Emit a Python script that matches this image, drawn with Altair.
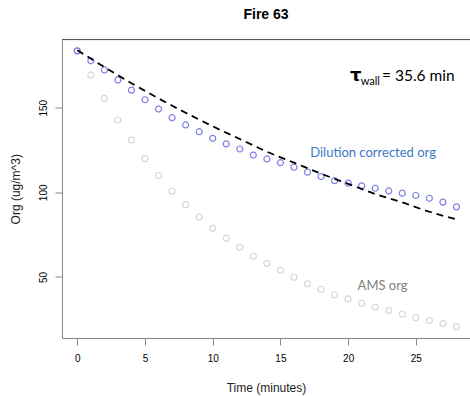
import altair as alt
import pandas as pd

# ---- data ----
time_min = list(range(29))
dilution_corrected = [183.6, 177.7, 172.3, 166.4, 160.4, 154.7, 149.2, 144.1, 139.8, 135.8,
                      131.9, 128.6, 125.6, 122.0, 119.7, 117.5, 114.8, 111.9, 109.3, 106.9,
                      105.4, 103.8, 102.4, 100.8, 99.5, 98.1, 96.5, 94.2, 91.4]
ams_org = [183.6, 169.3, 155.5, 142.7, 130.9, 119.9, 109.9, 100.6, 92.7, 85.4,
           78.7, 72.9, 67.5, 62.2, 58.0, 53.9, 49.8, 46.0, 42.7, 39.5,
           37.0, 34.4, 32.1, 30.1, 27.9, 25.9, 24.2, 22.4, 20.5]
fit_time = [0, 2, 4, 6, 8, 10, 12, 14, 16, 18, 20, 22, 24, 26, 28]
fit_values = [184.0, 174.0, 164.5, 155.5, 147.0, 139.0, 131.5, 124.0, 117.5, 111.0,
              105.0, 99.0, 94.0, 88.5, 84.0]
x_ticks = [0, 5, 10, 15, 20, 25]
y_ticks = [50, 100, 150]

x_domain = [-1.13, 29.0]
y_domain = [13.9, 190.3]

pts = pd.DataFrame({"t": time_min, "dil": dilution_corrected, "ams": ams_org})
fit = pd.DataFrame({"t": fit_time, "v": fit_values})

W, H = 408, 298.5

xs = alt.Scale(domain=x_domain, nice=False, zero=False)
ys = alt.Scale(domain=y_domain, nice=False, zero=False)

x_axis = alt.Axis(values=x_ticks, tickSize=7, labelPadding=8.5, grid=False,
                  title="Time (minutes)", titleFontWeight="normal", titleFontSize=12,
                  titleFont="Liberation Sans", titleColor="#222", titleY=49,
                  titleBaseline="middle", titleAlign="center", titleX=W / 2,
                  labelFlush=False)
y_axis = alt.Axis(values=y_ticks, tickSize=7, labelPadding=9, grid=False,
                  labelAngle=270, labelAlign="center", labelBaseline="alphabetic",
                  title="Org (ug/m^3)", titleFontWeight="normal", titleFontSize=12,
                  titleFont="Liberation Sans", titleColor="#222",
                  titleAngle=270, titleX=-47, titleY=H / 2,
                  titleAlign="center", titleBaseline="middle", labelFlush=False)

base = alt.Chart(pts)

ams_pts = base.mark_point(shape="circle", filled=False, size=36, strokeWidth=1.1,
                          color="#c6c6c6").encode(
    x=alt.X("t:Q", scale=xs, axis=x_axis),
    y=alt.Y("ams:Q", scale=ys, axis=y_axis),
)
dil_pts = base.mark_point(shape="circle", filled=False, size=36, strokeWidth=1.2,
                          color="#4a4ade").encode(
    x=alt.X("t:Q", scale=xs),
    y=alt.Y("dil:Q", scale=ys),
)
fit_line = alt.Chart(fit).mark_line(color="black", strokeWidth=1.8,
                                    strokeDash=[7, 5], interpolate="monotone").encode(
    x=alt.X("t:Q", scale=xs),
    y=alt.Y("v:Q", scale=ys),
)

top_border = alt.Chart(pd.DataFrame({"a": [0]})).mark_rule(color="#555", strokeWidth=1).encode(
    x=alt.datum(x_domain[0]), x2=alt.datum(x_domain[1]), y=alt.datum(y_domain[1])
)

# annotations (positions in data units)
lbl_dil = alt.Chart(pd.DataFrame({"t": [17.2], "v": [121.0], "s": ["Dilution corrected org"]})).mark_text(
    align="left", baseline="alphabetic", font="Lato", fontSize=13, color="#3b78c4"
).encode(x=alt.X("t:Q", scale=xs), y=alt.Y("v:Q", scale=ys), text="s:N")

lbl_ams = alt.Chart(pd.DataFrame({"t": [20.7], "v": [42.3], "s": ["AMS org"]})).mark_text(
    align="left", baseline="alphabetic", font="Lato", fontSize=13, color="#7f7f7f"
).encode(x=alt.X("t:Q", scale=xs), y=alt.Y("v:Q", scale=ys), text="s:N")

tau = alt.Chart(pd.DataFrame({"t": [20.14], "v": [165.7], "s": ["τ"]})).mark_text(
    align="left", baseline="alphabetic", font="DejaVu Sans", fontSize=18, fontWeight="bold", color="black"
).encode(x=alt.X("t:Q", scale=xs), y=alt.Y("v:Q", scale=ys), text="s:N")
wall = alt.Chart(pd.DataFrame({"t": [20.93], "v": [163.3], "s": ["wall"]})).mark_text(
    align="left", baseline="alphabetic", font="Lato", fontSize=11, color="black"
).encode(x=alt.X("t:Q", scale=xs), y=alt.Y("v:Q", scale=ys), text="s:N")
tau_val = alt.Chart(pd.DataFrame({"t": [22.5], "v": [165.7], "s": ["= 35.6 min"]})).mark_text(
    align="left", baseline="alphabetic", font="Lato", fontSize=15.5, color="black"
).encode(x=alt.X("t:Q", scale=xs), y=alt.Y("v:Q", scale=ys), text="s:N")

chart = alt.layer(
    top_border, ams_pts, dil_pts, fit_line, lbl_dil, lbl_ams, tau, wall, tau_val
).properties(
    width=W, height=H,
    title=alt.TitleParams(text="Fire 63", fontSize=14, fontWeight="bold",
                          font="Liberation Sans", anchor="middle", baseline="bottom",
                          frame="group", offset=19, dy=16, color="black"),
    autosize=alt.AutoSizeParams(type="none"),
    padding={"left": 62, "top": 39.5, "right": 0, "bottom": 58},
).configure_view(stroke=None).configure_axis(
    labelFont="Liberation Sans", labelFontSize=12, labelColor="#333",
    domainColor="#555", tickColor="#555", domainWidth=1, tickWidth=1
).configure(background="white")

chart.save("out.html", embed_options={"renderer": "svg", "actions": False})
